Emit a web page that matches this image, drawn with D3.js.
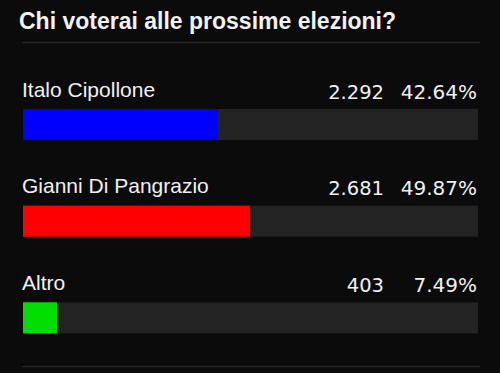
<!DOCTYPE html>
<html>
<head>
<meta charset="utf-8">
<script src="https://cdn.jsdelivr.net/npm/d3@7/dist/d3.min.js"></script>
<style>
  html, body { margin: 0; padding: 0; background: #0b0b0b; }
  svg { display: block; }
</style>
</head>
<body>
<svg id="chart" width="500" height="373"></svg>
<script>
// Poll results
const title = "Chi voterai alle prossime elezioni?";
const candidates = ["Italo Cipollone", "Gianni Di Pangrazio", "Altro"];
const votes = [2292, 2681, 403];
const percents = [42.64, 49.87, 7.49];
const colors = ["#0000ff", "#ff0000", "#00dd00"];

const W = 500, H = 373;
const svg = d3.select("#chart");

svg.append("rect").attr("width", W).attr("height", H).attr("fill", "#0b0b0b");

svg.append("text")
  .attr("x", 19).attr("y", 28.5)
  .attr("fill", "#f2f2f2")
  .attr("font-family", "Liberation Sans, Arial, sans-serif")
  .attr("font-weight", "bold")
  .attr("font-size", 23)
  .text(title);

// separators
[42.5, 366.5].forEach(y => {
  svg.append("line")
    .attr("x1", 22).attr("x2", 480)
    .attr("y1", y).attr("y2", y)
    .attr("stroke", "#242424").attr("stroke-width", 1.5);
});

const x = d3.scaleLinear().domain([0, 100]).range([23, 478]);
const y = d3.scaleBand().domain(candidates).range([61, 351]).paddingInner(0).paddingOuter(0);

const fmtVotes = d3.formatLocale({ decimal: ",", thousands: ".", grouping: [3], currency: ["", "€"] }).format(",d");

const rows = svg.selectAll("g.row")
  .data(candidates.map((c, i) => ({ name: c, votes: votes[i], pct: percents[i], color: colors[i] })))
  .join("g")
  .attr("class", "row")
  .attr("transform", d => `translate(0,${y(d.name)})`);

rows.append("text")
  .attr("x", 22).attr("y", 35.5)
  .attr("fill", "#f0f0f0")
  .attr("font-family", "Liberation Sans, Arial, sans-serif")
  .attr("font-size", 21)
  .text(d => d.name);

rows.append("text")
  .attr("x", 384).attr("y", 37.5)
  .attr("text-anchor", "end")
  .attr("fill", "#f0f0f0")
  .attr("font-family", "DejaVu Sans, Verdana, sans-serif")
  .attr("font-size", 19.5)
  .text(d => fmtVotes(d.votes));

rows.append("text")
  .attr("x", 477).attr("y", 37.5)
  .attr("text-anchor", "end")
  .attr("fill", "#f0f0f0")
  .attr("font-family", "DejaVu Sans, Verdana, sans-serif")
  .attr("font-size", 20)
  .text(d => d.pct.toFixed(2) + "%");

// track
rows.append("rect")
  .attr("x", x(0)).attr("y", 48)
  .attr("width", x(100) - x(0)).attr("height", 31)
  .attr("fill", "#232323");

// fill
rows.append("rect")
  .attr("x", x(0)).attr("y", 48)
  .attr("width", d => x(d.pct) - x(0)).attr("height", 31)
  .attr("fill", d => d.color);
</script>
</body>
</html>
